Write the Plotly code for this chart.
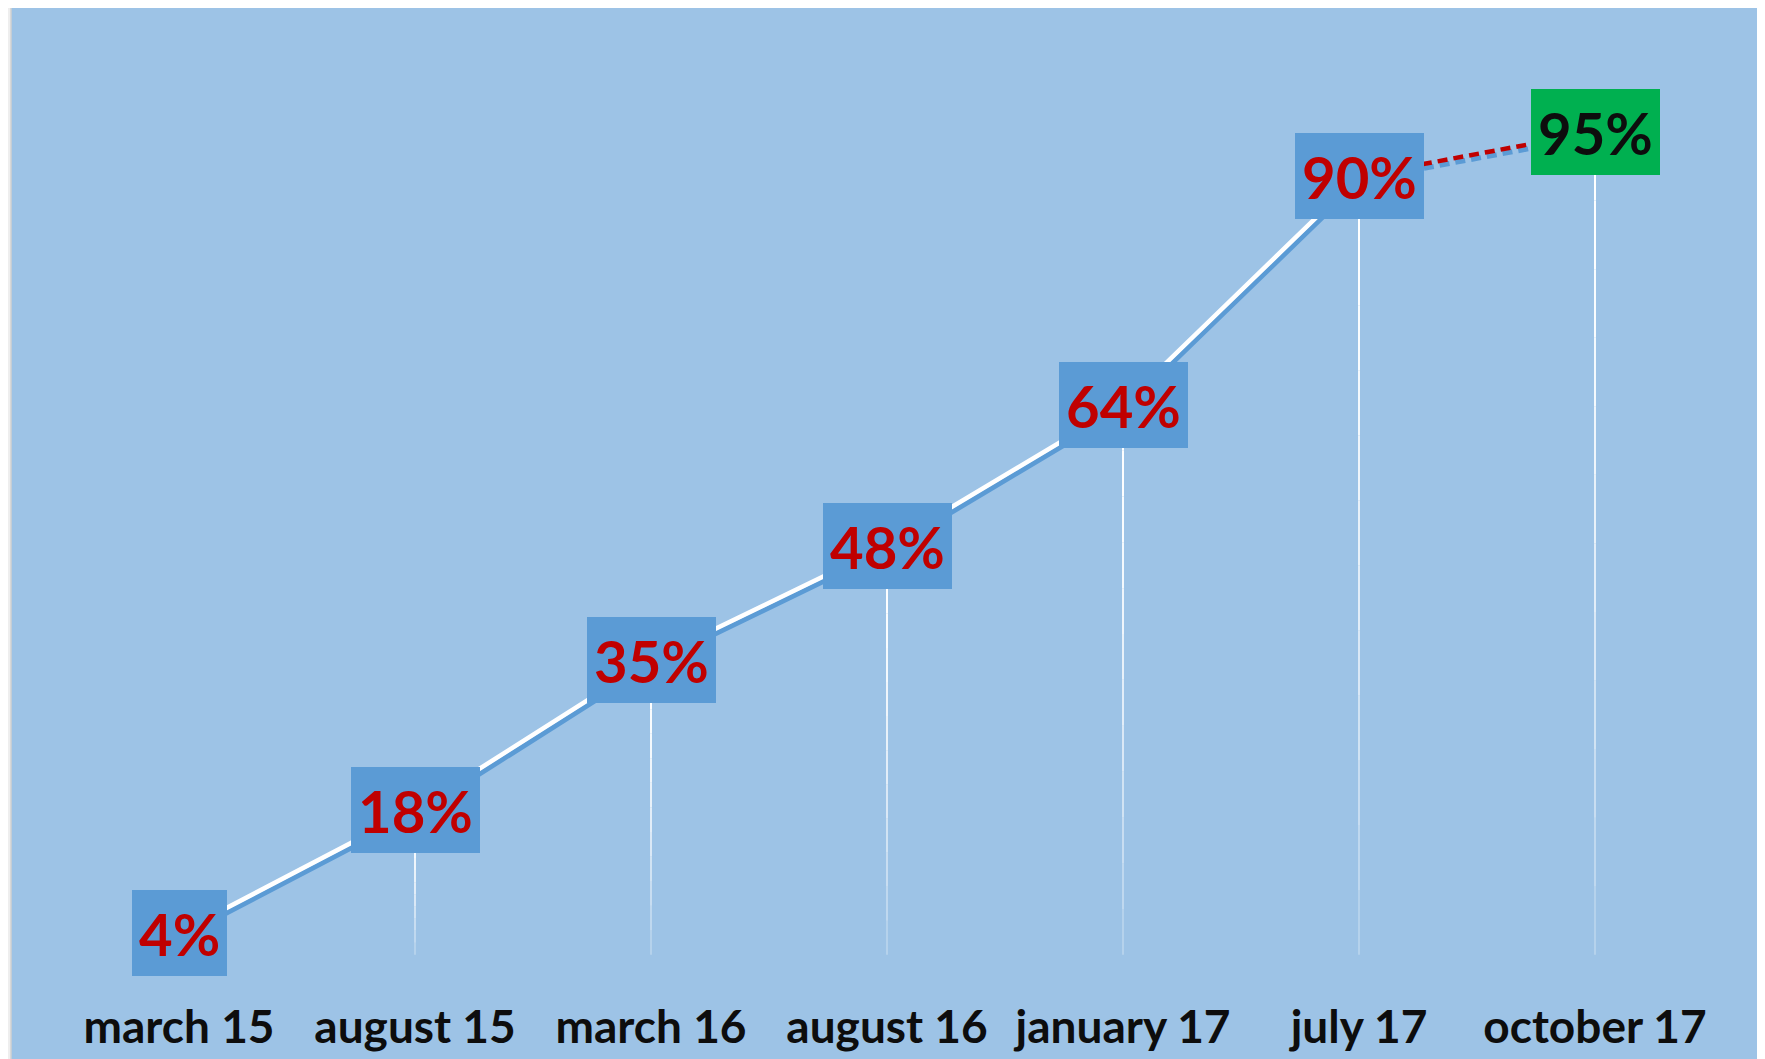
import plotly.graph_objects as go

# ---------------- data ----------------
categories = ["march 15", "august 15", "march 16", "august 16",
              "january 17", "july 17", "october 17"]
values = [4, 18, 35, 48, 64, 90, 95]
value_labels = [f"{v}%" for v in values]
n_actual = 6          # first 6 points are actual (solid line), last one is the target (dashed)

# ---------------- style ----------------
BG = "#9DC3E6"
BOX = "#5B9BD5"
GREEN = "#00B050"
RED = "#C00000"
DARK = "#0D0D0D"
FONT = "Lato"

PAGE_OFF = 8                       # default body margin of the html page
FIG_W, FIG_H = 1765 - PAGE_OFF, 1059 - PAGE_OFF
ML, MT = 11 - PAGE_OFF, 0
PW, PH = FIG_W - ML, FIG_H - MT
DX, DY = 2, 4                      # shadow offset in px
ex, ey = DX / PW, DY / PH

PX_CAT = 236.0                     # px per category
PX_PCT = 8.8                       # px per percent
x0_px = 179 - PAGE_OFF - ML        # px position of first category inside plot area
y0_px = 968 - PAGE_OFF - MT        # px position of 0% inside plot area
xr = [-x0_px / PX_CAT, -x0_px / PX_CAT + (PW - DX) / PX_CAT]
yr = [-((PH - DY) - y0_px) / PX_PCT, y0_px / PX_PCT]
DROP_BASE = 1.5                    # drop lines end just above the baseline

xs = list(range(len(categories)))

fig = go.Figure()

# ---- shadow of the line (on shifted axes x/y) ----
fig.add_trace(go.Scatter(x=xs[:n_actual], y=values[:n_actual], mode="lines",
                         line=dict(color=BOX, width=5), xaxis="x", yaxis="y",
                         hoverinfo="skip", showlegend=False))
fig.add_trace(go.Scatter(x=xs[n_actual - 1:], y=values[n_actual - 1:], mode="lines",
                         line=dict(color=BOX, width=5, dash="10px,6px"), xaxis="x", yaxis="y",
                         hoverinfo="skip", showlegend=False))

# ---- drop lines (fading) on main axes x2/y2 ----
N_SEG = 12
for k in range(N_SEG):
    xx, yy = [], []
    for i, v in enumerate(values):
        span = v - DROP_BASE
        top = v - span * k / N_SEG
        bot = v - span * (k + 1) / N_SEG
        xx += [xs[i], xs[i], None]
        yy += [top, bot, None]
    op = 1.0 - 0.75 * (k / (N_SEG - 1)) ** 1.5
    fig.add_trace(go.Scatter(x=xx, y=yy, mode="lines",
                             line=dict(color=f"rgba(255,255,255,{op:.2f})", width=2),
                             xaxis="x2", yaxis="y2", hoverinfo="skip", showlegend=False))

# ---- main line ----
fig.add_trace(go.Scatter(x=xs[:n_actual], y=values[:n_actual], mode="lines",
                         line=dict(color="white", width=4.5), xaxis="x2", yaxis="y2",
                         hoverinfo="skip", showlegend=False))
fig.add_trace(go.Scatter(x=xs[n_actual - 1:], y=values[n_actual - 1:], mode="lines",
                         line=dict(color=RED, width=4.5, dash="10px,6px"), xaxis="x2", yaxis="y2",
                         hoverinfo="skip", showlegend=False))

# ---- value boxes ----
for i, (v, lab) in enumerate(zip(values, value_labels)):
    is_target = i == len(values) - 1
    fig.add_annotation(x=xs[i], y=v, xref="x2", yref="y2", text=lab, showarrow=False,
                       xanchor="center", yanchor="middle",
                       font=dict(family=FONT, size=58, weight="bold",
                                 color=DARK if is_target else RED),
                       bgcolor=GREEN if is_target else BOX,
                       height=72, borderpad=7, borderwidth=0)

# ---- background & frame ----
fig.add_shape(type="rect", xref="paper", yref="paper", x0=0, x1=1, y0=0, y1=1,
              fillcolor=BG, line=dict(width=0), layer="below")
fig.add_shape(type="path", xref="paper", yref="paper", path="M0,0 L0,1",
              line=dict(color="#D0D0D0", width=1.5), layer="above")

axis_common = dict(showgrid=False, zeroline=False, showline=False, ticks="",
                   fixedrange=True)
fig.update_layout(
    width=FIG_W, height=FIG_H,
    margin=dict(l=ML, r=0, t=MT, b=0, pad=0),
    paper_bgcolor="#EEEEEE",
    plot_bgcolor="rgba(0,0,0,0)",
    showlegend=False,
    xaxis=dict(domain=[ex, 1], range=xr, anchor="y", showticklabels=False, **axis_common),
    yaxis=dict(domain=[0, 1 - ey], range=yr, anchor="x", showticklabels=False, **axis_common),
    xaxis2=dict(domain=[0, 1 - ex], range=xr, anchor="y2",
                tickmode="array", tickvals=xs, ticktext=categories,
                ticklabelposition="inside",
                tickfont=dict(family=FONT, size=46, weight="bold", color=DARK),
                **axis_common),
    yaxis2=dict(domain=[ey, 1], range=yr, anchor="x2", showticklabels=False, **axis_common),
)

fig.write_html("out.html")
